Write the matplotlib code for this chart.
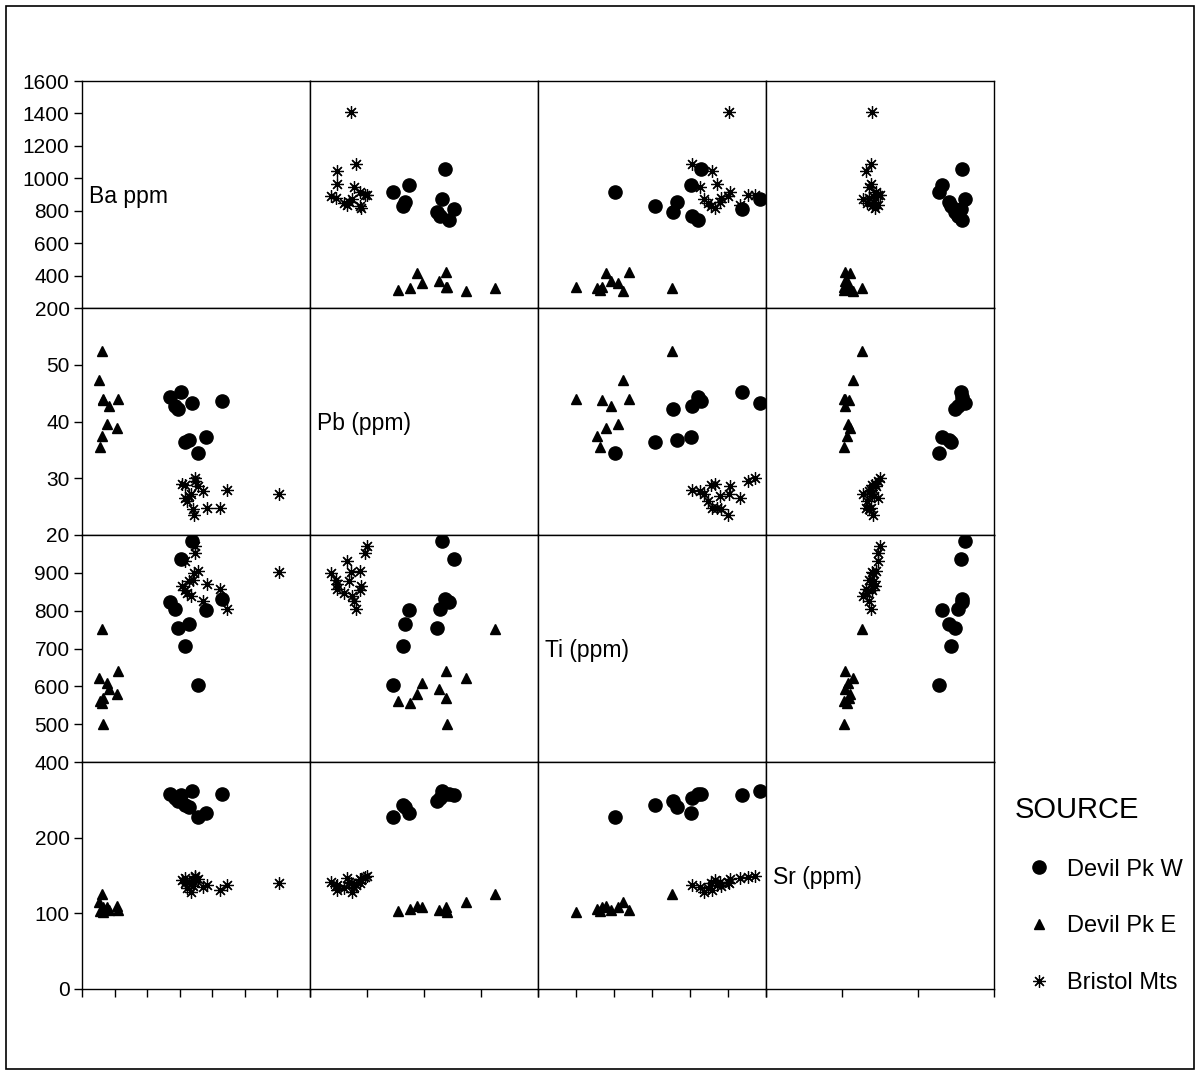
import matplotlib
matplotlib.use("Agg")
import matplotlib.pyplot as plt
from matplotlib.patches import Rectangle

plt.rcParams['font.family'] = ['Liberation Sans', 'DejaVu Sans']

# variables of the matrix, in order
variables = ['Ba', 'Pb', 'Ti', 'Sr']
diag_labels = ['Ba ppm', 'Pb (ppm)', 'Ti (ppm)', 'Sr (ppm)']
limits = {'Ba': (200, 1600), 'Pb': (20, 60), 'Ti': (400, 1000), 'Sr': (0, 300)}
y_ticks = {'Ba': [200, 400, 600, 800, 1000, 1200, 1400, 1600],
           'Pb': [20, 30, 40, 50],
           'Ti': [400, 500, 600, 700, 800, 900],
           'Sr': [0, 100, 200]}
x_ticks = {'Ba': [200, 400, 600, 800, 1000, 1200, 1400, 1600],
           'Pb': [20, 30, 40, 50, 60],
           'Ti': [400, 500, 600, 700, 800, 900, 1000],
           'Sr': [0, 100, 200, 300]}

# Devil Pk W
ba_w = [915, 830, 790, 855, 960, 770, 740, 1060, 810, 875]
pb_w = [34.5, 36.4, 42.2, 36.7, 37.3, 42.8, 44.4, 43.6, 45.2, 43.2]
ti_w = [603, 707, 755, 765, 802, 804, 822, 830, 936, 984]
sr_w = [227, 243, 249, 241, 232, 252, 258, 258, 257, 262]

# Devil Pk E
ba_e = [330, 325, 310, 330, 414, 365, 352, 305, 420, 323]
pb_e = [44.0, 37.5, 35.5, 43.8, 38.8, 42.7, 39.6, 47.3, 43.9, 52.4]
ti_e = [500, 555, 562, 568, 580, 592, 610, 623, 640, 752]
sr_e = [102, 106, 103, 109, 110, 104, 108, 115, 104, 126]

# Bristol Mts
ba_b = [1410, 1090, 1045, 965, 945, 890, 895, 895, 915, 835, 855, 845, 830, 870, 815, 880]
pb_b = [27.2, 28.0, 24.8, 24.7, 27.7, 23.6, 30.0, 29.6, 28.7, 26.5, 26.8, 26.0, 28.8, 27.3, 29.0, 24.6]
ti_b = [902, 804, 857, 870, 825, 900, 972, 952, 905, 932, 879, 848, 855, 838, 866, 882]
sr_b = [140, 138, 131, 138, 135, 141, 150, 148, 145, 147, 142, 133, 140, 128, 144, 136]

groups = [
    ('Devil Pk W', {'Ba': ba_w, 'Pb': pb_w, 'Ti': ti_w, 'Sr': sr_w}, dict(marker='o', ms=9.5)),
    ('Devil Pk E', {'Ba': ba_e, 'Pb': pb_e, 'Ti': ti_e, 'Sr': sr_e}, dict(marker='^', ms=7.5)),
    ('Bristol Mts', {'Ba': ba_b, 'Pb': pb_b, 'Ti': ti_b, 'Sr': sr_b}, dict(marker=(8, 2, 0), ms=9, mew=0.9)),
]

W, H = 1200, 1075
fig = plt.figure(figsize=(W / 100, H / 100), dpi=100)

x0, y0, cw, ch = 82, 81, 228, 227
handles = []
n = len(variables)
for i, vy in enumerate(variables):
    for j, vx in enumerate(variables):
        ax = fig.add_axes([(x0 + j * cw) / W, 1 - (y0 + (i + 1) * ch) / H, cw / W, ch / H])
        ax.set_xlim(limits[vx])
        ax.set_ylim(limits[vy])
        for s in ax.spines.values():
            s.set_linewidth(1.0)
        ax.tick_params(length=6, width=1.0, labelsize=15, direction='out', pad=3)
        if j == 0:
            ax.set_yticks(y_ticks[vy])
        else:
            ax.set_yticks([])
        if i == n - 1:
            ax.set_xticks(x_ticks[vx])
            ax.set_xticklabels([])
        else:
            ax.set_xticks([])
        if i == j:
            ax.text(0.03, 0.49, diag_labels[i], transform=ax.transAxes,
                    ha='left', va='center', fontsize=16.5)
            continue
        for name, data, style in groups:
            ln, = ax.plot(data[vx], data[vy], ls='none', color='black', label=name, **style)
            if i == 1 and j == 0:
                handles.append(ln)

fig.legend(handles, [h.get_label() for h in handles], title='SOURCE',
           loc='upper left', bbox_to_anchor=(1015 / W, 1 - 796 / H),
           frameon=False, fontsize=17, title_fontsize=21, borderpad=0,
           borderaxespad=0, labelspacing=1.47, handlelength=2.03,
           handletextpad=0.17, alignment='left')

fig.add_artist(Rectangle((6 / W, 1 - 1069 / H), 1188 / W, 1063 / H,
                         transform=fig.transFigure, fill=False, lw=1.2, color='black'))

fig.savefig('out.png', dpi=100)
